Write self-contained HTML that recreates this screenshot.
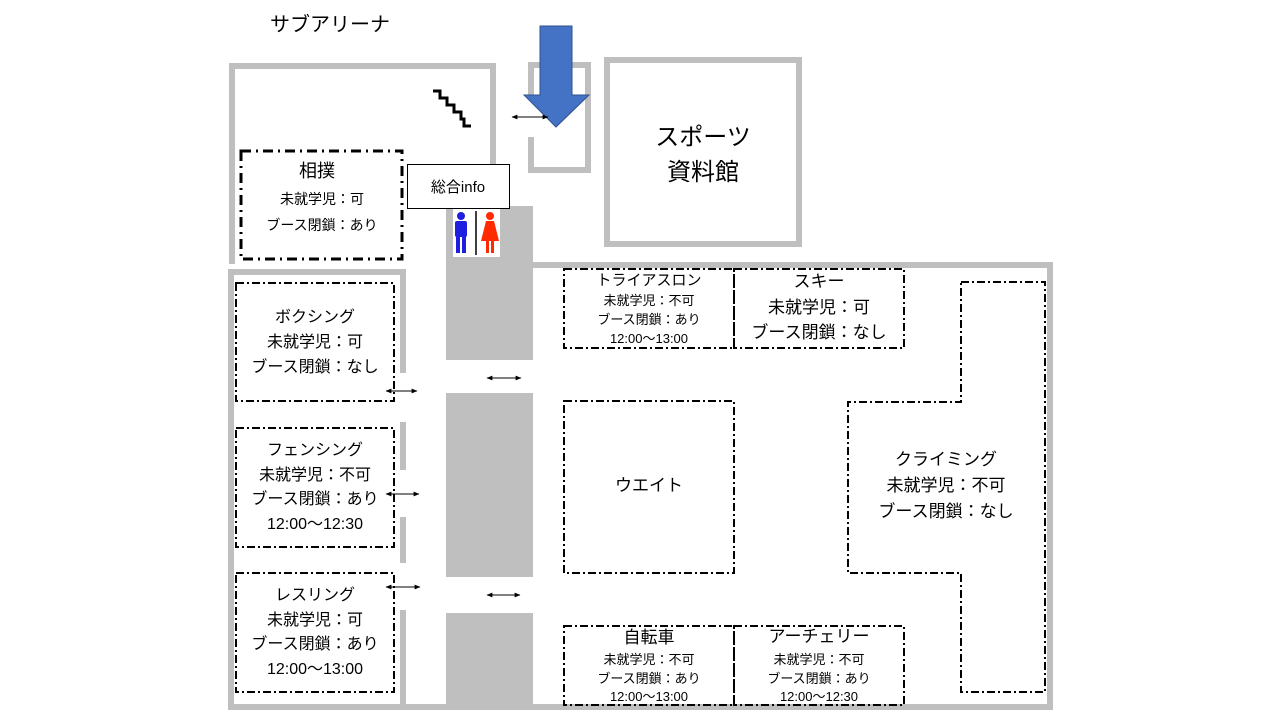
<!DOCTYPE html>
<html><head><meta charset="utf-8"><style>
html,body{margin:0;padding:0;background:#fff;}
svg{display:block;}
text{font-family:"Liberation Sans","Noto Sans CJK JP",sans-serif;fill:#000;text-anchor:middle;}
.w{fill:none;stroke:#bfbfbf;stroke-width:6;}
.dd{fill:none;stroke:#000;stroke-width:2;stroke-dasharray:8 3 2 3;}
.ar{stroke:#000;stroke-width:1;marker-start:url(#ah);marker-end:url(#ah);}
</style></head><body>
<svg width="1280" height="720" viewBox="0 0 1280 720" xmlns="http://www.w3.org/2000/svg">
<defs><marker id="ah" viewBox="0 0 10 10" refX="9" refY="5" markerWidth="6" markerHeight="6" orient="auto-start-reverse"><path d="M0,1 L10,5 L0,9 z" fill="#000"/></marker></defs>
<text x="330" y="31" font-size="20">サブアリーナ</text>
<!-- sub arena walls -->
<path class="w" d="M232,264 V66 H493 V164"/>
<path class="w" d="M403,373 V272 H231 V707 H1050 V265 H531 M403,422 V470 M403,517 V563 M403,610 V707"/>
<!-- corridor -->
<rect x="446" y="206" width="87" height="154" fill="#bfbfbf"/>
<rect x="446" y="393" width="87" height="184" fill="#bfbfbf"/>
<rect x="446" y="613" width="87" height="92" fill="#bfbfbf"/>
<rect x="453" y="207" width="47" height="50" fill="#fff"/>
<line x1="476" y1="211" x2="476" y2="255" stroke="#000" stroke-width="1.5"/>
<!-- restroom icons -->
<g fill="#1f1fe0"><circle cx="461" cy="216" r="4"/><rect x="455" y="221" width="12" height="16" rx="2"/><rect x="456" y="236" width="4" height="17"/><rect x="462" y="236" width="4" height="17"/></g>
<g fill="#ff2a00"><circle cx="490" cy="216" r="4"/><path d="M486,221 H494 L499,241 H481 Z"/><rect x="486" y="240" width="3" height="13"/><rect x="491" y="240" width="3" height="13"/></g>
<!-- entrance -->
<path class="w" d="M531,95 V65 H588 V170 H531 V137"/>
<path d="M540,26 H572 V95 H589 L556,127 L524,95 H540 Z" fill="#4472c4" stroke="#2f528f" stroke-width="1"/>
<!-- stairs -->
<path d="M433,91 H440 V98 H447 V105 H454 V112 H461 V119 H464 V126 H471" fill="none" stroke="#000" stroke-width="3"/>
<line class="ar" x1="512" y1="117" x2="548" y2="117"/>
<!-- sports museum -->
<rect x="607" y="60" width="192" height="184" class="w"/>
<text x="703" y="145" font-size="24">スポーツ</text>
<text x="703" y="180" font-size="24">資料館</text>
<!-- info -->
<rect x="407.5" y="164.5" width="102" height="44" fill="#fff" stroke="#000" stroke-width="1"/>
<text x="458" y="192" font-size="15">総合info</text>
<!-- sumo -->
<rect x="241" y="151" width="161" height="108" fill="none" stroke="#000" stroke-width="3" stroke-dasharray="10 5 2 5"/>
<text x="317" y="177" font-size="18">相撲</text>
<text x="322" y="204" font-size="14">未就学児：可</text>
<text x="322" y="230" font-size="14">ブース閉鎖：あり</text>
<!-- left boxes -->
<rect class="dd" x="236" y="283" width="158" height="118"/>
<text x="315" y="322" font-size="16">ボクシング</text>
<text x="315" y="347" font-size="16">未就学児：可</text>
<text x="315" y="372" font-size="16">ブース閉鎖：なし</text>
<rect class="dd" x="236" y="428" width="158" height="119"/>
<text x="315" y="455" font-size="16">フェンシング</text>
<text x="315" y="480" font-size="16">未就学児：不可</text>
<text x="315" y="504" font-size="16">ブース閉鎖：あり</text>
<text x="315" y="529" font-size="16">12:00～12:30</text>
<rect class="dd" x="236" y="573" width="158" height="119"/>
<text x="315" y="600" font-size="16">レスリング</text>
<text x="315" y="625" font-size="16">未就学児：可</text>
<text x="315" y="649" font-size="16">ブース閉鎖：あり</text>
<text x="315" y="674" font-size="16">12:00～13:00</text>
<line class="ar" x1="386" y1="391" x2="417" y2="391"/>
<line class="ar" x1="487" y1="378" x2="521" y2="378"/>
<line class="ar" x1="386" y1="494" x2="419" y2="494"/>
<line class="ar" x1="386" y1="587" x2="420" y2="587"/>
<line class="ar" x1="487" y1="595" x2="520" y2="595"/>
<!-- right boxes -->
<rect class="dd" x="564" y="269" width="170" height="79"/>
<text x="649" y="285" font-size="15">トライアスロン</text>
<text x="649" y="305" font-size="13">未就学児：不可</text>
<text x="649" y="324" font-size="13">ブース閉鎖：あり</text>
<text x="649" y="343" font-size="13">12:00～13:00</text>
<rect class="dd" x="734" y="269" width="170" height="79"/>
<text x="819" y="287" font-size="17">スキー</text>
<text x="819" y="313" font-size="17">未就学児：可</text>
<text x="819" y="338" font-size="17">ブース閉鎖：なし</text>
<rect class="dd" x="564" y="401" width="170" height="172"/>
<text x="649" y="491" font-size="17">ウエイト</text>
<path class="dd" d="M961,282 H1045 V692 H961 V573 H848 V402 H961 Z"/>
<text x="946" y="465" font-size="17">クライミング</text>
<text x="946" y="491" font-size="17">未就学児：不可</text>
<text x="946" y="517" font-size="17">ブース閉鎖：なし</text>
<rect class="dd" x="564" y="626" width="170" height="79"/>
<text x="649" y="643" font-size="17">自転車</text>
<text x="649" y="664" font-size="13">未就学児：不可</text>
<text x="649" y="683" font-size="13">ブース閉鎖：あり</text>
<text x="649" y="701" font-size="13">12:00～13:00</text>
<rect class="dd" x="734" y="626" width="170" height="79"/>
<text x="819" y="642" font-size="17">アーチェリー</text>
<text x="819" y="664" font-size="13">未就学児：不可</text>
<text x="819" y="683" font-size="13">ブース閉鎖：あり</text>
<text x="819" y="701" font-size="13">12:00～12:30</text>
</svg>
</body></html>
